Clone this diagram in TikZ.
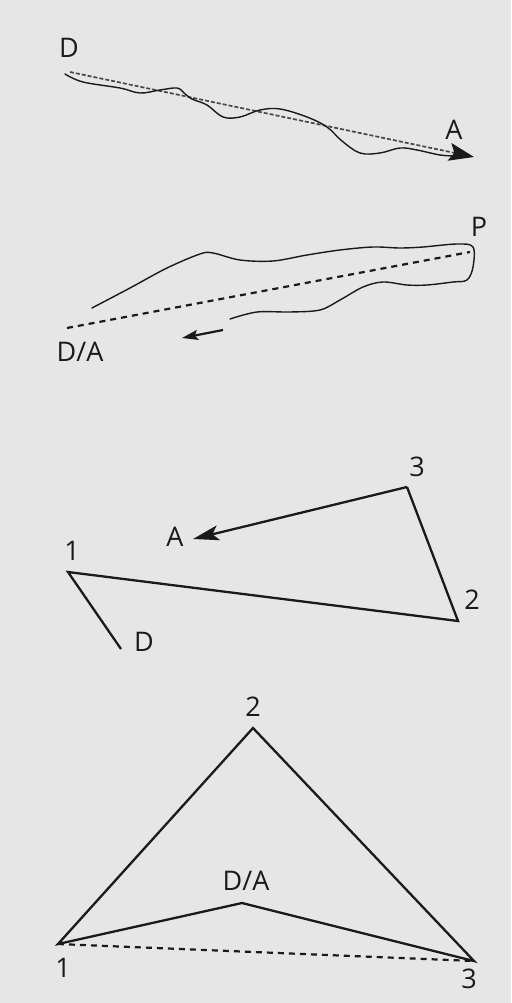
\documentclass[tikz,border=0pt]{standalone}
\usepackage{fontspec}
\setmainfont{Open Sans}
\usetikzlibrary{arrows.meta,calc}
\definecolor{bg}{HTML}{E6E6E6}
\definecolor{ink}{HTML}{1A1A1A}
\begin{document}
\begin{tikzpicture}[x=1pt,y=-1pt,
  lbl/.style={font=\fontsize{27}{29}\selectfont, text=ink, inner sep=0pt},
  edge/.style={draw=ink, line width=2.3pt, line join=miter},
  wavy/.style={draw=ink, line width=1.4pt, line cap=round},
  guide/.style={draw=ink, line width=2.2pt, dash pattern=on 6pt off 5pt},
  fineguide/.style={draw=ink!80, line width=1.7pt, dash pattern=on 4pt off 2pt},
  bigtip/.style={-{Stealth[length=25pt,width=18pt,inset=5pt]}},
  tip/.style={-{Stealth[length=26pt,width=15pt,inset=6pt]}},
  smalltip/.style={-{Stealth[length=16pt,width=10pt,inset=3pt]}}]
\fill[bg] (0,0) rectangle (511,1003);
\useasboundingbox (0,0) rectangle (511,1003);

% ---------- panel 1 ----------
\node[lbl] (d1) at (69,48) {D};
\node[lbl] (a1) at (454,130) {A};
\coordinate (s1) at (70,72);
\coordinate (e1) at (474,157);
\draw[fineguide] (s1) -- ($(s1)!0.95!(e1)$) coordinate (m1);
\draw[draw=ink, line width=1.7pt, bigtip] (m1) -- (e1);
\draw[wavy] plot[smooth, tension=0.6] coordinates {(65,74) (83,82) (120,88) (140,93) (160,90) (177,88) (184,93) (192,99) (207,105) (223,117) (240,117) (260,110) (280,109) (307,117) (327,127) (342,141) (360,153) (380,153) (400,148) (417,150) (440,155) (456,156)};

% ---------- panel 2 ----------
\node[lbl] (p2) at (479,227) {P};
\node[lbl] (da2) at (80,352) {D/A};
\coordinate (s2) at (67,328);
\coordinate (e2) at (470,252);
\draw[guide] (s2) -- (e2);
\draw[wavy] plot[smooth, tension=0.55] coordinates {(92,308) (130,288) (167,268) (200,254) (213,253) (240,260) (273,261) (307,255) (340,250) (373,247) (400,248) (423,247) (457,244) (473,247) (473,267) (467,280) (453,282) (427,285) (407,285) (383,282) (363,287) (340,300) (320,310) (290,312) (257,312) (230,319)};
\coordinate (b2) at (223,330);
\coordinate (f2) at (182,338);
\draw[draw=ink, line width=2.2pt, smalltip] (b2) -- (f2);

% ---------- panel 3 ----------
\coordinate (v1) at (68,572);
\coordinate (v2) at (458,621);
\coordinate (v3) at (407,487);
\coordinate (vd) at (121,649);
\coordinate (va) at (193,539);
\node[lbl] (l1) at (72,551) {1};
\node[lbl] (l2) at (472,600) {2};
\node[lbl] (l3) at (417,467) {3};
\node[lbl] (la) at (175,537) {A};
\node[lbl] (ld) at (144,642) {D};
\draw[edge] (vd) -- (v1) -- (v2) -- (v3);
\draw[edge, tip] (v3) -- (va);

% ---------- panel 4 ----------
\coordinate (w1) at (58,944);
\coordinate (w2) at (253,728);
\coordinate (w3) at (474,961);
\coordinate (wd) at (242,903);
\node[lbl] (m1l) at (63,968) {1};
\node[lbl] (m2l) at (253,707) {2};
\node[lbl] (m3l) at (469,979) {3};
\node[lbl] (mdl) at (246,881) {D/A};
\draw[edge] (w1) -- (w2) -- (w3) -- (wd) -- cycle;
\draw[guide] (w1) -- (w3);
\end{tikzpicture}
\end{document}
